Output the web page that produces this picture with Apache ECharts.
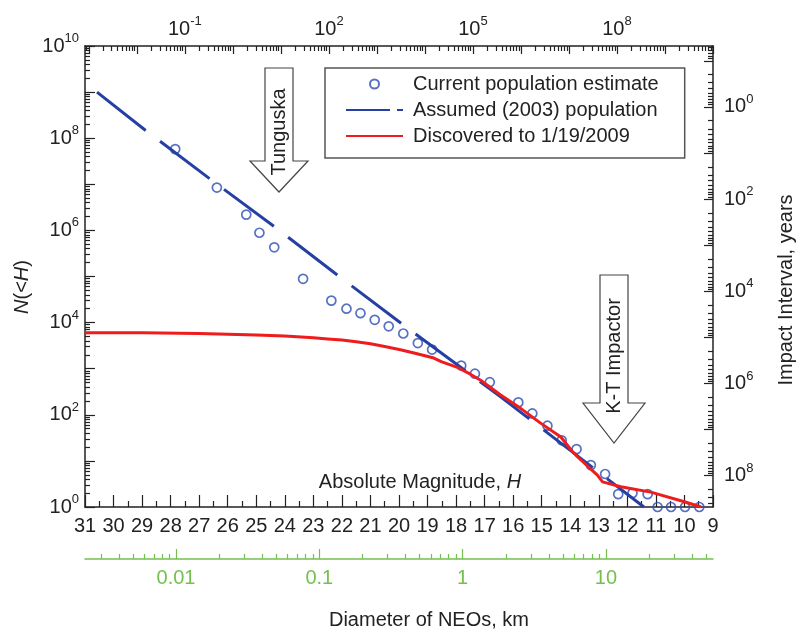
<!DOCTYPE html>
<html>
<head>
<meta charset="utf-8">
<script src="https://cdn.jsdelivr.net/npm/echarts@6/dist/echarts.min.js"></script>
<style>
html, body { margin: 0; padding: 0; background: #fff; }
#neoChart { width: 800px; height: 632px; }
</style>
</head>
<body>
<div id="neoChart"></div>
<script>
// current population estimate (circles), H vs N(<H)
const hCurrent = [27.84, 26.38, 25.35, 24.89, 24.37, 23.36, 22.37, 21.84, 21.35, 20.85,
  20.36, 19.85, 19.34, 18.84, 17.82, 17.34, 16.82, 15.82, 15.33, 14.80,
  14.30, 13.78, 13.28, 12.78, 12.32, 11.82, 11.29, 10.94, 10.47, 9.98, 9.48]
const nCurrent = [5.8e7, 8.5e6, 2.2e6, 8.9e5, 4.3e5, 8.9e4, 3.0e4, 2.0e4, 1.6e4, 1.15e4,
  8300, 5800, 3600, 2600, 1170, 780, 510, 186, 107, 58,
  28, 18, 8.1, 5.2, 1.9, 2.0, 1.9, 1, 1, 1, 1]

// assumed (2003) population, dashed
const hAssumed = [30.58, 28.86, 26.61, 24.36, 22.11, 19.89, 16.44, 11.42]
const nAssumed = [1.0e9, 1.45e8, 1.29e7, 1.2e6, 1.02e5, 9300, 245, 1]

// discovered to 1/19/2009
const hFound = [31, 29, 27, 26, 25, 24, 23, 22.5, 22, 21.5, 21, 20.5, 19.95, 19.4, 18.78,
  18.5, 18, 17.5, 17.14, 16.44, 15.74, 15.04, 14.33, 13.92, 13.75, 13.05, 12.87, 12.23,
  11.18, 10.0, 9.42]
const nFound = [6000, 6000, 5820, 5620, 5370, 5130, 4680, 4420, 4170, 3850, 3470, 3020, 2570, 2140, 1700,
  1410, 1100, 760, 560, 270, 138, 66, 33, 15.8, 12.3, 4.9, 3.5, 2.75,
  2.1, 1.3, 1.0]

// tick labels
const nLabels = [1, 1e2, 1e4, 1e6, 1e8, 1e10]
const energyLabels = [0.1, 100, 1e5, 1e8]
const intervalLabels = [1, 100, 1e4, 1e6, 1e8]
const diameterLabels = [0.01, 0.1, 1, 10]

// axis ranges (secondary scales follow H)
const eMin = Math.pow(10, -3.08)
const eMax = 1e10
const iMin = Math.pow(10, -1.32)
const iMax = Math.pow(10, 8.68)
const dMin = Math.pow(10, -2.635)
const dMax = Math.pow(10, 1.747)

const ink = '#222'
const green = '#74c04e'
const fontFamily = 'Liberation Sans, Arial, sans-serif'

function logTicks(lo, hi, mants) {
  const out = []
  for (let k = Math.floor(Math.log10(lo)) - 1; k <= Math.ceil(Math.log10(hi)); k++) {
    mants.forEach(m => {
      const v = +(m * Math.pow(10, k)).toPrecision(6)
      if (v >= lo && v <= hi) out.push(v)
    })
  }
  return out
}
const minors = [2, 3, 4, 5, 6, 7, 8, 9]

function sup(v) {
  return '{b|10}{e|' + Math.round(Math.log10(v)) + '}'
}
const supRich = {
  b: { fontSize: 20, color: ink, fontFamily: fontFamily },
  e: { fontSize: 13, color: ink, fontFamily: fontFamily, padding: [0, 0, 15, 0] }
}

const frame = { left: 85, right: 87, top: 46, bottom: 125 }
const lineInk = { onZero: false, lineStyle: { color: ink, width: 1.5 } }
const noLine = { show: false, onZero: false }
const tickInk = { color: ink, width: 1.2 }

const chart = echarts.init(document.getElementById('neoChart'))

const option = {
  animation: false,
  textStyle: { fontFamily: fontFamily },
  grid: [0, 1, 2, 3, 4].map(() => Object.assign({}, frame)),
  xAxis: [
    {
      type: 'value', gridIndex: 0, position: 'bottom', inverse: true,
      min: 9, max: 31, interval: 1,
      axisLine: lineInk,
      axisTick: { inside: true, length: 12, lineStyle: tickInk },
      minorTick: { show: true, splitNumber: 2, length: 6, lineStyle: tickInk },
      axisLabel: { fontSize: 20, color: ink, margin: 9 },
      splitLine: { show: false }
    },
    {
      type: 'log', gridIndex: 1, position: 'top', min: eMin, max: eMax,
      axisLine: lineInk,
      axisTick: { inside: true, length: 8, lineStyle: tickInk, customValues: logTicks(eMin, eMax, [1]) },
      axisLabel: { customValues: energyLabels, formatter: sup, rich: supRich, margin: 3 },
      splitLine: { show: false }
    },
    {
      type: 'log', gridIndex: 2, position: 'top', min: eMin, max: eMax,
      axisLine: noLine,
      axisTick: { inside: true, length: 5, lineStyle: tickInk, customValues: logTicks(eMin, eMax, minors) },
      axisLabel: { show: false },
      splitLine: { show: false }
    },
    {
      type: 'log', gridIndex: 3, position: 'bottom', offset: 52, min: dMin, max: dMax,
      axisLine: { onZero: false, lineStyle: { color: green, width: 1.5 } },
      axisTick: { inside: true, length: 10, lineStyle: { color: green, width: 1.2 }, customValues: logTicks(dMin, dMax, [1]) },
      axisLabel: { customValues: diameterLabels, fontSize: 20, color: green, margin: 9, formatter: v => String(v) },
      splitLine: { show: false }
    },
    {
      type: 'log', gridIndex: 4, position: 'bottom', offset: 52, min: dMin, max: dMax,
      axisLine: noLine,
      axisTick: { inside: true, length: 5, lineStyle: { color: green, width: 1.2 }, customValues: logTicks(dMin, dMax, minors) },
      axisLabel: { show: false },
      splitLine: { show: false }
    }
  ],
  yAxis: [
    {
      type: 'log', gridIndex: 0, position: 'left', min: 1, max: 1e10,
      axisLine: lineInk,
      axisTick: { inside: true, length: 10, lineStyle: tickInk, customValues: logTicks(1, 1e10, [1]) },
      axisLabel: { customValues: nLabels, formatter: sup, rich: supRich, margin: 6 },
      splitLine: { show: false }
    },
    {
      type: 'log', gridIndex: 1, position: 'right', inverse: true, min: iMin, max: iMax,
      axisLine: lineInk,
      axisTick: { inside: true, length: 9, lineStyle: tickInk, customValues: logTicks(iMin, iMax, [1]) },
      axisLabel: { customValues: intervalLabels, formatter: sup, rich: supRich, margin: 11 },
      splitLine: { show: false }
    },
    {
      type: 'log', gridIndex: 2, position: 'right', inverse: true, min: iMin, max: iMax,
      axisLine: noLine,
      axisTick: { inside: true, length: 5, lineStyle: tickInk, customValues: logTicks(iMin, iMax, minors) },
      axisLabel: { show: false },
      splitLine: { show: false }
    },
    {
      type: 'log', gridIndex: 3, position: 'left', min: 1, max: 1e10,
      axisLine: noLine,
      axisTick: { inside: true, length: 5, lineStyle: tickInk, customValues: logTicks(1, 1e10, minors) },
      axisLabel: { show: false },
      splitLine: { show: false }
    },
    { type: 'value', gridIndex: 4, show: false, axisLine: { onZero: false } }
  ],
  legend: {
    left: 325, top: 68, orient: 'vertical',
    itemWidth: 57, itemHeight: 9, itemGap: 6,
    padding: [6, 26, 12, 20],
    borderColor: '#555', borderWidth: 1.5, backgroundColor: '#fff',
    selectedMode: false,
    textStyle: { fontSize: 20, color: ink, padding: [0, 0, 0, 5] },
    data: [
      { name: 'Current population estimate' },
      { name: 'Assumed (2003) population', lineStyle: { type: [44, 7] }, itemStyle: { opacity: 0 } },
      { name: 'Discovered to 1/19/2009', itemStyle: { opacity: 0 } }
    ]
  },
  graphic: [
    {
      type: 'polygon',
      shape: { points: [[265, 68], [293, 68], [293, 161], [308, 161], [279, 192], [250, 161], [265, 161]] },
      style: { fill: '#fff', stroke: '#444', lineWidth: 1.2 }
    },
    {
      type: 'text', x: 279, y: 132, rotation: Math.PI / 2,
      style: { text: 'Tunguska', fontSize: 20, fontFamily: fontFamily, fill: ink, align: 'center', verticalAlign: 'middle' }
    },
    {
      type: 'polygon',
      shape: { points: [[600, 275], [628, 275], [628, 403], [645, 403], [614, 443], [583, 403], [600, 403]] },
      style: { fill: '#fff', stroke: '#444', lineWidth: 1.2 }
    },
    {
      type: 'text', x: 614, y: 356, rotation: Math.PI / 2,
      style: { text: 'K-T Impactor', fontSize: 20, fontFamily: fontFamily, fill: ink, align: 'center', verticalAlign: 'middle' }
    },
    {
      type: 'text', x: 420, y: 482,
      style: {
        text: 'Absolute Magnitude, {i|H}', fontSize: 20, fontFamily: fontFamily, fill: ink,
        align: 'center', verticalAlign: 'middle',
        rich: { i: { fontStyle: 'italic', fontSize: 20, fontFamily: fontFamily, fill: ink } }
      }
    },
    {
      type: 'text', x: 429, y: 620,
      style: { text: 'Diameter of NEOs, km', fontSize: 20, fontFamily: fontFamily, fill: ink, align: 'center', verticalAlign: 'middle' }
    },
    {
      type: 'text', x: 22, y: 287, rotation: Math.PI / 2,
      style: {
        text: '{i|N}(<{i|H})', fontSize: 20, fontFamily: fontFamily, fill: ink,
        align: 'center', verticalAlign: 'middle',
        rich: { i: { fontStyle: 'italic', fontSize: 20, fontFamily: fontFamily, fill: ink } }
      }
    },
    {
      type: 'text', x: 786, y: 290, rotation: Math.PI / 2,
      style: { text: 'Impact Interval, years', fontSize: 20, fontFamily: fontFamily, fill: ink, align: 'center', verticalAlign: 'middle' }
    }
  ],
  series: [
    {
      name: 'Assumed (2003) population', type: 'line',
      xAxisIndex: 0, yAxisIndex: 0, symbol: 'none',
      lineStyle: { color: '#2540a2', width: 3, type: [62, 18] },
      itemStyle: { color: '#2540a2' },
      data: hAssumed.map((h, i) => [h, nAssumed[i]])
    },
    {
      name: 'Discovered to 1/19/2009', type: 'line',
      xAxisIndex: 0, yAxisIndex: 0, symbol: 'none',
      lineStyle: { color: '#ee1c1c', width: 3 },
      itemStyle: { color: '#ee1c1c' },
      data: hFound.map((h, i) => [h, nFound[i]])
    },
    {
      name: 'Current population estimate', type: 'scatter',
      xAxisIndex: 0, yAxisIndex: 0, symbol: 'circle', symbolSize: 9,
      itemStyle: { color: 'rgba(255,255,255,0)', borderColor: '#2c4db5', borderWidth: 1.7 },
      data: hCurrent.map((h, i) => [h, nCurrent[i]])
    }
  ]
}

chart.setOption(option)
</script>
</body>
</html>
